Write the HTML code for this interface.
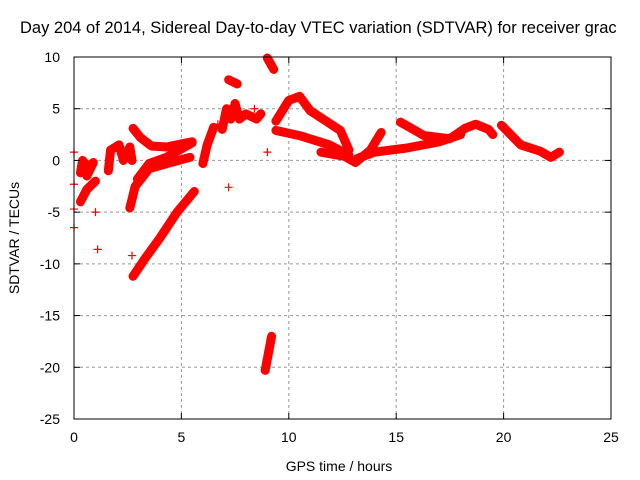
<!DOCTYPE html>
<html><head><meta charset="utf-8"><style>
body{margin:0;background:#fff}
svg{display:block;font-family:"Liberation Sans",sans-serif}
</style></head><body>
<svg id="c" width="640" height="480">
<text x="20" y="33" font-size="16.5">Day 204 of 2014, Sidereal Day-to-day VTEC variation (SDTVAR) for receiver grac</text>
<text x="339" y="471" font-size="14" text-anchor="middle">GPS time / hours</text>
<text transform="translate(19,238) rotate(-90)" font-size="14" text-anchor="middle">SDTVAR / TECUs</text>
<g id="grid"></g><g id="marks"></g><g id="axes"></g>
</svg>
<script>
const xTicks=[0,5,10,15,20,25];
const yTicks=[10,5,0,-5,-10,-15,-20,-25];
const trackA=[[2.75,-11.2],[3.3,-9.5],[4,-7.5],[4.8,-5],[5.6,-3]];
const trackB1=[[2.95,-1.8],[3.5,-0.3],[4.3,0.3],[4.9,1],[5.5,1.7]];
const trackB2=[[2.6,-4.6],[2.85,-2.5],[3.5,-0.8],[4.5,-0.2],[5.4,0.3]];
const trackC=[[2.75,3.1],[3.1,2.2],[3.6,1.4],[4.3,1.3],[5,1.6],[5.5,1.8]];
const trackD=[[0.3,-1.2],[0.4,0],[0.7,-0.8],[0.9,-0.2],[0.6,-1.5]];
const trackE=[[0.3,-4],[0.6,-2.8],[1,-2]];
const trackF=[[1.6,-1],[1.7,1],[2.1,1.5],[2.3,0],[2.6,1.3],[2.7,0]];
const trackG=[[6.0,-0.3],[6.2,1.5],[6.5,3.2]];
const trackH=[[7.2,7.8],[7.6,7.4]];
const trackI=[[6.9,3],[7.1,5],[7.3,4],[7.5,5.5],[7.7,4],[8,4.5],[8.5,4],[8.7,4.5]];
const trackJ=[[9.0,9.9],[9.3,8.8]];
const trackK=[[8.9,-20.3],[9.2,-17]];
const trackL=[[9.4,3.8],[10.0,5.8],[10.5,6.2],[11,4.8],[12.4,2.9],[12.8,1]];
const trackM=[[9.4,2.9],[10.5,2.4],[11.9,1.5],[12.8,0.5]];
const trackN=[[11.5,0.8],[12.6,0.4],[13.1,-0.2],[13.8,1],[14.3,2.7]];
const trackO=[[13.2,0.2],[14,0.8],[15.5,1.2],[17,1.8],[18,2.5]];
const trackP=[[15.2,3.7],[16.3,2.4],[17.5,2.1],[18.2,3.1],[18.7,3.5],[19.3,3],[19.5,2.5]];
const trackQ=[[19.9,3.4],[20.8,1.5],[21.7,0.9],[22.2,0.3],[22.6,0.8]];
const singles=[[0,0.8],[0,-2.3],[0,-4.7],[0,-6.5],[1,-5],[1.1,-8.6],[2.7,-9.2],[7.2,-2.6],[9,0.8],[8.4,5],[6.7,3.5]];
const tracks=[trackA,trackB1,trackB2,trackC,trackD,trackE,trackF,trackG,trackH,trackI,trackJ,trackK,trackL,trackM,trackN,trackO,trackP,trackQ];
const X0=74,X1=611,Y0=419,Y1=57;
const sx=v=>X0+(v-0)/25*(X1-X0);
const sy=v=>Y0-(v+25)/35*(Y0-Y1);
const NS="http://www.w3.org/2000/svg";
function mk(t,a,p){const e=document.createElementNS(NS,t);for(const k in a)e.setAttribute(k,a[k]);p.appendChild(e);return e;}
const grid=document.getElementById('grid'),axes=document.getElementById('axes'),marks=document.getElementById('marks');
xTicks.forEach(t=>{const x=sx(t);
 if(t>0&&t<25){const g=mk('line',{x1:x,x2:x,y1:Y1,y2:Y0,stroke:'#999','stroke-dasharray':'3,3'},grid);
 }
 mk('line',{x1:x,x2:x,y1:Y0,y2:Y0-6,stroke:'#000'},axes);mk('line',{x1:x,x2:x,y1:Y1,y2:Y1+6,stroke:'#000'},axes);
 const l=mk('text',{x:x,y:Y0+23,'font-size':14,'text-anchor':'middle'},axes);l.textContent=t;
 });
yTicks.forEach(t=>{const y=sy(t);
 if(t<10&&t>-25){const g=mk('line',{x1:X0,x2:X1,y1:y,y2:y,stroke:'#999','stroke-dasharray':'3,3'},grid);
 }
 mk('line',{x1:X0,x2:X0+6,y1:y,y2:y,stroke:'#000'},axes);mk('line',{x1:X1,x2:X1-6,y1:y,y2:y,stroke:'#000'},axes);
 const l=mk('text',{x:X0-14,y:y+5,'font-size':14,'text-anchor':'end'},axes);l.textContent=t;
 });
const fr=mk('rect',{x:X0,y:Y1,width:X1-X0,height:Y0-Y1,fill:'none',stroke:'#000'},axes);

function plus(x,y){const p=mk('path',{d:`M${x-4},${y}h8M${x},${y-4}v8`,stroke:'#f00','stroke-width':1.2},marks);
 }
tracks.forEach(tr=>{
 const pl=mk('polyline',{points:tr.map(p=>sx(p[0])+','+sy(p[1])).join(' '),fill:'none',stroke:'#f00','stroke-width':9,'stroke-linejoin':'round','stroke-linecap':'round'},marks);
 
 tr.forEach(p=>plus(sx(p[0]),sy(p[1])));});
singles.forEach(p=>plus(sx(p[0]),sy(p[1])));
</script>
</body></html>
